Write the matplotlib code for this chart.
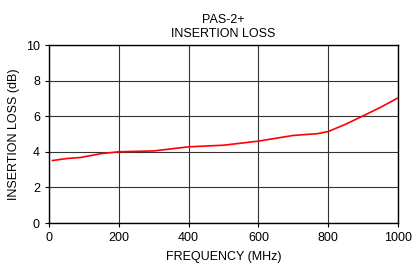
import numpy as np
import matplotlib
matplotlib.use("Agg")
import matplotlib.pyplot as plt

plt.rcParams['font.family'] = ['Liberation Sans', 'DejaVu Sans']

# frequency (MHz) and insertion loss (dB)
freq = [10, 50, 90, 150, 200, 300, 400, 500, 600, 700, 770, 800, 850, 900, 950, 1000]
loss = [3.51, 3.62, 3.68, 3.9, 4.0, 4.05, 4.28, 4.37, 4.6, 4.92, 5.02, 5.14, 5.55, 6.02, 6.5, 7.03]

fig = plt.figure(figsize=(4.13, 2.64), dpi=100)
ax = fig.add_axes([0.1186, 0.1553, 0.8451, 0.6742])

ax.plot(freq, loss, color='red', lw=1.2)

ax.set_xlim(0, 1000)
ax.set_ylim(0, 10)
ax.set_xticks(np.arange(0, 1001, 200))
ax.set_yticks(np.arange(0, 11, 2))
ax.grid(True, color='#333333', lw=0.8)
for s in ax.spines.values():
    s.set_linewidth(1.0)
ax.tick_params(labelsize=9, length=3, width=0.8, direction='out')

ax.set_title("PAS-2+\nINSERTION LOSS", fontsize=9, pad=6)
ax.set_xlabel("FREQUENCY (MHz)", fontsize=9, labelpad=5)
ax.set_ylabel("INSERTION LOSS (dB)", fontsize=9, labelpad=4)

fig.savefig("out.png", dpi=100)
